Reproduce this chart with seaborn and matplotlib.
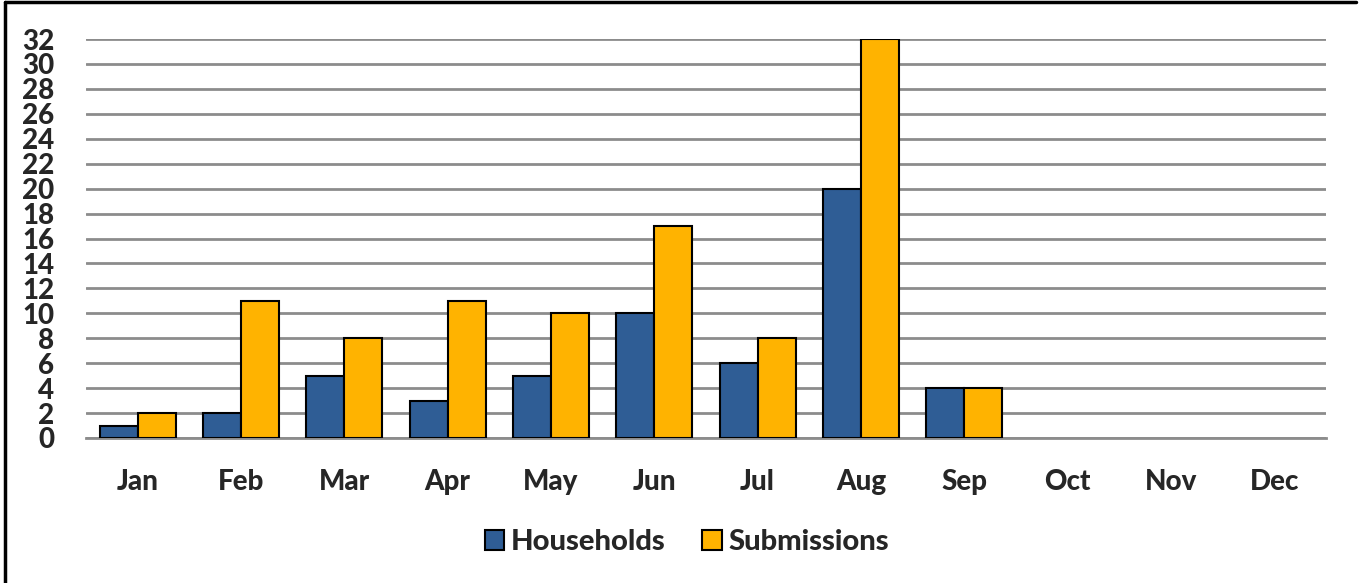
import matplotlib
matplotlib.use('Agg')
import matplotlib.pyplot as plt
import seaborn as sns
import pandas as pd
import numpy as np

months = ['Jan', 'Feb', 'Mar', 'Apr', 'May', 'Jun', 'Jul', 'Aug', 'Sep', 'Oct', 'Nov', 'Dec']
households = [1, 2, 5, 3, 5, 10, 6, 20, 4, np.nan, np.nan, np.nan]
submissions = [2, 11, 8, 11, 10, 17, 8, 32, 4, np.nan, np.nan, np.nan]
series = ['Households', 'Submissions']
colors = {'Households': '#2F5D95', 'Submissions': '#FFB300'}

sns.set_style('white')
plt.rcParams['font.family'] = ['Lato', 'DejaVu Sans']
plt.rcParams['font.weight'] = 'black'

df = pd.DataFrame({'Month': months * 2,
                   'Value': households + submissions,
                   'Series': [series[0]] * 12 + [series[1]] * 12})

fig = plt.figure(figsize=(13.59, 5.83), dpi=100, facecolor='white')
ax = fig.add_axes([86/1359, 1 - 438/583, 1240/1359, 399/583])

sns.barplot(data=df, x='Month', y='Value', hue='Series', order=months,
            hue_order=series, palette=colors, saturation=1, width=0.735,
            edgecolor='black', linewidth=1.5, ax=ax, zorder=3)

ax.set_ylim(0, 32)
ax.set_xlim(-0.5, 11.5)
ax.set_yticks(range(0, 33, 2))
ax.yaxis.grid(True, color='#8C8C8C', lw=2, zorder=0)
ax.set_axisbelow(True)
for s in ['top', 'right', 'left']:
    ax.spines[s].set_visible(False)
ax.spines['bottom'].set_color('#8C8C8C')
ax.spines['bottom'].set_linewidth(2)
ax.tick_params(axis='y', length=0, pad=23, labelsize=20)
ax.tick_params(axis='x', length=0, pad=22, labelsize=20)
for lbl in ax.get_xticklabels() + ax.get_yticklabels():
    lbl.set_fontweight('black')
ax.set_xlabel('')
ax.set_ylabel('')

handles, labels = ax.get_legend_handles_labels()
ax.legend(handles, labels, loc='center', bbox_to_anchor=(687/1359, 1 - 542/583),
          bbox_transform=fig.transFigure, ncol=2, frameon=False,
          prop={'weight': 'black', 'size': 21}, handlelength=0.66, handleheight=0.66,
          handletextpad=0.25, columnspacing=1.25)

# outer frame (top and left edges visible)
fig.add_artist(plt.Line2D([0.004, 0.004], [0, 0.996], transform=fig.transFigure, color='black', lw=2.5))
fig.add_artist(plt.Line2D([0.004, 0.998], [0.996, 0.996], transform=fig.transFigure, color='black', lw=2.5))

fig.savefig('out.png', dpi=100)
